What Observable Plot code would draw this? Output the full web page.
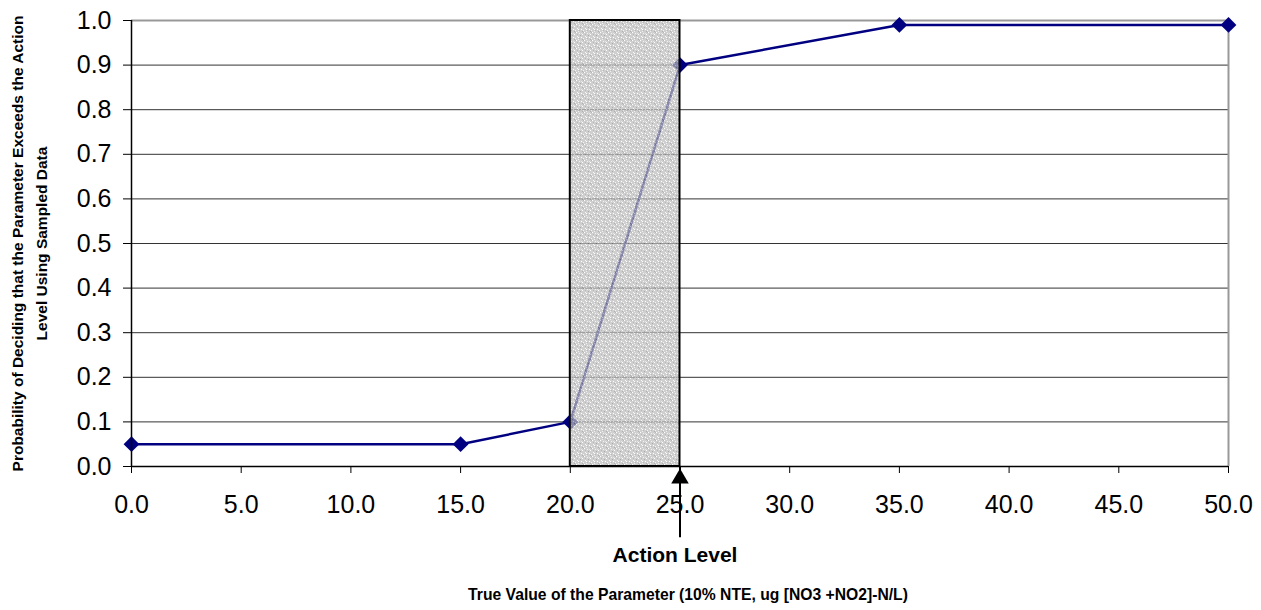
<!DOCTYPE html>
<html><head><meta charset="utf-8">
<script src="https://cdn.jsdelivr.net/npm/d3@7"></script>
<script src="https://cdn.jsdelivr.net/npm/@observablehq/plot@0.6"></script>
<style>
body{margin:0;background:#fff;}
svg{font-family:Arial,"Liberation Sans",sans-serif;}
</style></head>
<body><div id="chart"></div>
<script>
const trueValues = [0, 15, 20, 25, 35, 50];
const probabilities = [0.05, 0.05, 0.1, 0.9, 0.99, 0.99];
const xTicks = [0, 5, 10, 15, 20, 25, 30, 35, 40, 45, 50];
const yTicks = [0, 0.1, 0.2, 0.3, 0.4, 0.5, 0.6, 0.7, 0.8, 0.9, 1.0];
const grayRegion = [20, 25];
const actionLevel = 25;

const data = trueValues.map((x, i) => ({x, y: probabilities[i]}));

const chart = Plot.plot({
  width: 1261, height: 610,
  marginLeft: 131, marginRight: 33, marginTop: 20, marginBottom: 144,
  style: {fontFamily: 'Arial,"Liberation Sans",sans-serif', background: "#fff"},
  x: {domain: [0, 50], ticks: xTicks, tickFormat: d3.format(".1f")},
  y: {domain: [0, 1], ticks: yTicks, tickFormat: d3.format(".1f")},
  marks: [
    Plot.ruleY(yTicks.filter(d => d > 0 && d < 1), {stroke: "#333", strokeWidth: 1}),
    Plot.ruleY([1], {stroke: "#999", strokeWidth: 2}),
    Plot.ruleX([50], {stroke: "#999", strokeWidth: 2}),
    Plot.line(data, {x: "x", y: "y", stroke: "#000080", strokeWidth: 2.5}),
    Plot.dot(data, {x: "x", y: "y", symbol: "square", rotate: 45, fill: "#000080", r: 6.3, stroke: "none"}),
    Plot.rect([grayRegion], {x1: d => d[0], x2: d => d[1], y1: () => 0, y2: () => 1, fill: "url(#stipple)", fillOpacity: 0.72, stroke: "#000", strokeWidth: 2}),
    Plot.ruleX([0], {stroke: "#000", strokeWidth: 1.5}),
    Plot.ruleY([0], {stroke: "#000", strokeWidth: 1.5}),
    Plot.axisY({ticks: yTicks, tickFormat: d3.format(".1f"), tickSize: 8, tickPadding: 12, fontSize: 25, label: null, stroke: "#000"}),
    Plot.axisX({ticks: xTicks, tickFormat: d3.format(".1f"), tickSize: 7, tickPadding: 22, fontSize: 25, label: null, stroke: "#000"}),
    Plot.ruleX([actionLevel], {y1: () => 0, y2: () => -0.16, stroke: "#000", strokeWidth: 2}),
    Plot.dot([actionLevel], {x: d => d, y: () => 0, symbol: "triangle", r: 6.5, fill: "#000", stroke: "none", dy: 12}),
    Plot.text(["Action Level"], {x: () => actionLevel, y: () => 0, text: d => d, dy: 89, dx: -5, fontSize: 21, fontWeight: "bold", fill: "#000"}),
    Plot.text(["True Value of the Parameter (10% NTE, ug [NO3 +NO2]-N/L)"], {frameAnchor: "bottom", text: d => d, dy: 133, dx: 8, fontSize: 15.7, fontWeight: "bold", fill: "#000"}),
    Plot.text(["Probability of Deciding that the Parameter Exceeds the Action\nLevel Using Sampled Data"], {frameAnchor: "left", textAnchor: "middle", text: d => d, dx: -104, rotate: -90, fontSize: 15.5, fontWeight: "bold", lineHeight: 1.5, fill: "#000"})
  ]
});

const ns = "http://www.w3.org/2000/svg";
const defs = document.createElementNS(ns, "defs");
const pat = document.createElementNS(ns, "pattern");
pat.setAttribute("id", "stipple");
pat.setAttribute("width", "8");
pat.setAttribute("height", "8");
pat.setAttribute("patternUnits", "userSpaceOnUse");
const base = document.createElementNS(ns, "rect");
base.setAttribute("width", "8"); base.setAttribute("height", "8"); base.setAttribute("fill", "#bcbcbc");
pat.appendChild(base);
const specks = [[0,0,"#fff"],[3,1,"#eee"],[6,2,"#fff"],[1,4,"#f4f4f4"],[5,5,"#fff"],[2,7,"#e8e8e8"],[7,6,"#f0f0f0"],[4,3,"#8a8a8a"],[1,2,"#999"],[6,7,"#8f8f8f"],[3,6,"#a0a0a0"],[7,0,"#9a9a9a"],[2,5,"#fff"],[5,1,"#ddd"]];
for (const [x, y, c] of specks) {
  const r = document.createElementNS(ns, "rect");
  r.setAttribute("x", x); r.setAttribute("y", y); r.setAttribute("width", 1); r.setAttribute("height", 1); r.setAttribute("fill", c);
  pat.appendChild(r);
}
defs.appendChild(pat);
chart.insertBefore(defs, chart.firstChild);
document.getElementById("chart").appendChild(chart);
</script></body></html>
